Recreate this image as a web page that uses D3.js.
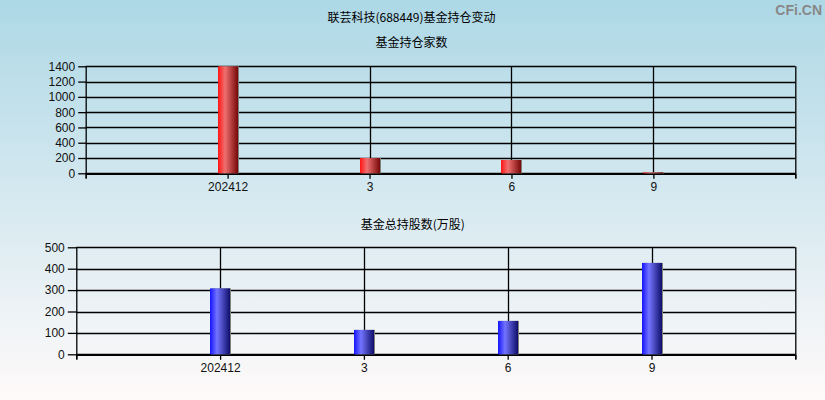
<!DOCTYPE html>
<html><head><meta charset="utf-8">
<script src="https://cdn.jsdelivr.net/npm/d3@7/dist/d3.min.js"></script>
<style>body{margin:0;padding:0;}svg{display:block;}</style>
</head><body>
<script>
const categories = ["202412", "3", "6", "9"];
const fundCounts = [1400, 200, 174, 12];
const fundShares = [308, 114, 156, 427];
const countTicks = [0, 200, 400, 600, 800, 1000, 1200, 1400];
const shareTicks = [0, 100, 200, 300, 400, 500];
const mainTitle = "联芸科技(688449)基金持仓变动";
const title1 = "基金持仓家数";
const title2 = "基金总持股数(万股)";

const W = 825, H = 400;
const font = "'Liberation Sans', Arial, sans-serif";
const cjk = "'Noto Sans CJK SC', sans-serif";
const svg = d3.select("body").append("svg").attr("width", W).attr("height", H);
const defs = svg.append("defs");
const bg = defs.append("linearGradient").attr("id","bg").attr("x1",0).attr("y1",0).attr("x2",0).attr("y2",1);
bg.append("stop").attr("offset","0%").attr("stop-color","#add8e6");
bg.append("stop").attr("offset","100%").attr("stop-color","#fffafa");
function barGrad(id, c0, c1, c2){
  const g = defs.append("linearGradient").attr("id",id).attr("x1",0).attr("y1",0).attr("x2",1).attr("y2",0);
  g.append("stop").attr("offset","0%").attr("stop-color",c0);
  g.append("stop").attr("offset","35%").attr("stop-color",c1);
  g.append("stop").attr("offset","100%").attr("stop-color",c2);
}
barGrad("gr","#ff1414","#f07070","#760808");
barGrad("gb","#1414ff","#7474ff","#0e0e6a");

svg.append("rect").attr("width",W).attr("height",H).attr("fill","url(#bg)");

svg.append("text").attr("x",411.5).attr("y",22).attr("text-anchor","middle")
  .style("font-family",cjk).style("font-size","12px").attr("fill","#000").text(mainTitle);
svg.append("text").attr("x",822).attr("y",15).attr("text-anchor","end")
  .style("font-family",font).style("font-size","14px").style("font-weight","bold").attr("fill","#888").text("CFi.CN");

function panel(opt){
  const {left,right,top,bottom,max,ticks,values,grad,title,titleY} = opt;
  const g = svg.append("g");
  const y = d3.scaleLinear().domain([0,max]).range([bottom,top]);
  const x = d3.scalePoint().domain(["_s", ...categories, "_e"]).range([left,right]);
  g.append("text").attr("x",(left+right)/2+(opt.dx||0)).attr("y",titleY).attr("text-anchor","middle")
    .style("font-family",cjk).style("font-size","12px").attr("fill","#000").text(title);
  g.selectAll(".hg").data(ticks).enter().append("line")
    .attr("x1",left).attr("x2",right).attr("y1",d=>Math.round(y(d))+0.5).attr("y2",d=>Math.round(y(d))+0.5)
    .attr("stroke","#000").attr("stroke-width",1.3);
  g.selectAll(".vg").data(categories).enter().append("line")
    .attr("x1",d=>Math.round(x(d))+0.5).attr("x2",d=>Math.round(x(d))+0.5).attr("y1",top).attr("y2",bottom)
    .attr("stroke","#000").attr("stroke-width",1.3);
  g.append("line").attr("x1",left+0.5).attr("x2",left+0.5).attr("y1",top).attr("y2",bottom+5).attr("stroke","#000").attr("stroke-width",1.3);
  g.append("line").attr("x1",right+0.5).attr("x2",right+0.5).attr("y1",top).attr("y2",bottom+5).attr("stroke","#000").attr("stroke-width",1.3);
  const ya = d3.axisLeft(y).tickValues(ticks).tickFormat(d3.format("d")).tickSize(opt.ts).tickPadding(3);
  const yg = g.append("g").attr("transform",`translate(${left+0.5},0)`).call(ya);
  yg.select(".domain").remove();
  yg.selectAll("line").attr("stroke","#000").attr("stroke-width",1.3);
  yg.selectAll("text").style("font-family",font).style("font-size","12px").attr("fill","#111");
  const xa = d3.axisBottom(x).tickValues(categories).tickSize(5).tickPadding(4);
  const xg = g.append("g").attr("transform",`translate(0,${bottom+0.5})`).call(xa);
  xg.select(".domain").attr("stroke","#000").attr("stroke-width",1.3);
  xg.selectAll("line").attr("stroke","#000").attr("stroke-width",1.3);
  xg.selectAll("text").style("font-family",font).style("font-size","12px").attr("fill","#111");
  const bw = 20;
  const bars = g.selectAll(".bar").data(values).enter().append("g");
  bars.append("rect").attr("x",(d,i)=>Math.round(x(categories[i]))-bw/2+1).attr("width",bw)
    .attr("y",d=>y(d)).attr("height",d=>bottom-y(d)).attr("fill","#808080");
  bars.append("rect").attr("x",(d,i)=>Math.round(x(categories[i]))-bw/2).attr("width",bw)
    .attr("y",d=>y(d)).attr("height",d=>bottom-y(d)).attr("fill",`url(#${grad})`);
}
panel({left:85.7,right:795.3,top:66.3,bottom:173.3,max:1400,ticks:countTicks,values:fundCounts,grad:"gr",title:title1,titleY:47,dx:-29,ts:8});
panel({left:76.3,right:795.3,top:247.3,bottom:354.3,max:500,ticks:shareTicks,values:fundShares,grad:"gb",title:title2,titleY:229,dx:-23,ts:9});
</script>
</body></html>
